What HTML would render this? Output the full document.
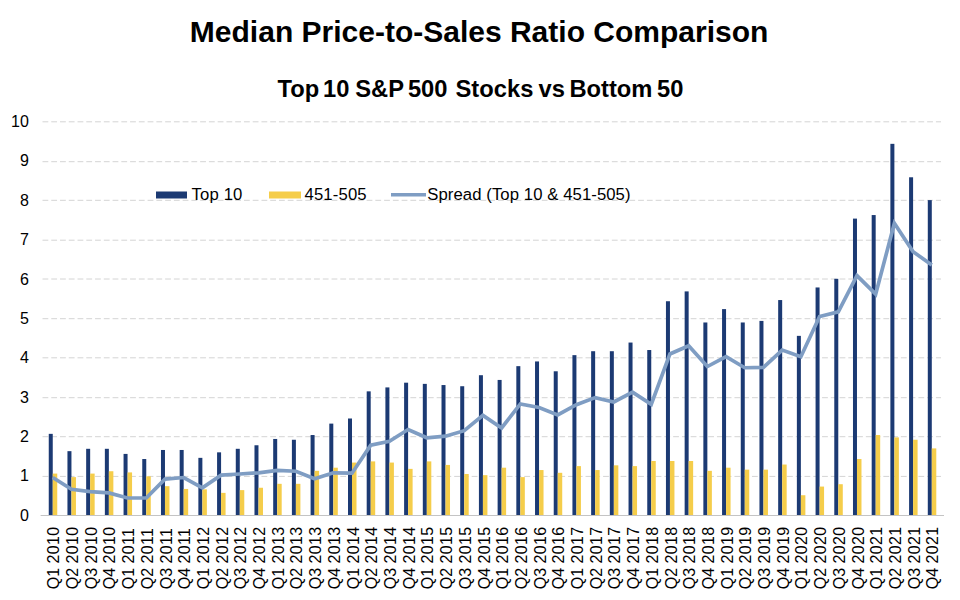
<!DOCTYPE html>
<html><head><meta charset="utf-8"><style>
html,body{margin:0;padding:0;background:#fff;}
body{width:960px;height:600px;overflow:hidden;}
svg{display:block;}
text{font-family:"Liberation Sans",sans-serif;fill:#000;}
</style></head><body>
<svg width="960" height="600" viewBox="0 0 960 600">
<rect width="960" height="600" fill="#fff"/>
<text x="479.1" y="42.2" text-anchor="middle" font-weight="bold" font-size="30">Median Price-to-Sales Ratio Comparison</text>
<text transform="translate(277.47,96.6) scale(1.01,1)" font-weight="bold" font-size="23.5">Top</text>
<text transform="translate(323.07,96.6) scale(1.01,1)" font-weight="bold" font-size="23.5">10</text>
<text transform="translate(355.18,96.6) scale(1.01,1)" font-weight="bold" font-size="23.5">S&amp;P</text>
<text transform="translate(407.88,96.6) scale(1.01,1)" font-weight="bold" font-size="23.5">500</text>
<text transform="translate(455.53,96.6) scale(1.01,1)" font-weight="bold" font-size="23.5">Stocks</text>
<text transform="translate(538.54,96.6) scale(1.01,1)" font-weight="bold" font-size="23.5">vs</text>
<text transform="translate(569.38,96.6) scale(1.01,1)" font-weight="bold" font-size="23.5">Bottom</text>
<text transform="translate(656.94,96.6) scale(1.01,1)" font-weight="bold" font-size="23.5">50</text>
<line x1="42.5" y1="476.40" x2="941" y2="476.40" stroke="#d4d4d4" stroke-width="1" stroke-dasharray="5.8 2.959"/>
<line x1="42.5" y1="436.70" x2="941" y2="436.70" stroke="#d4d4d4" stroke-width="1" stroke-dasharray="5.8 2.959"/>
<line x1="42.5" y1="397.70" x2="941" y2="397.70" stroke="#d4d4d4" stroke-width="1" stroke-dasharray="5.8 2.959"/>
<line x1="42.5" y1="357.80" x2="941" y2="357.80" stroke="#d4d4d4" stroke-width="1" stroke-dasharray="5.8 2.959"/>
<line x1="42.5" y1="318.70" x2="941" y2="318.70" stroke="#d4d4d4" stroke-width="1" stroke-dasharray="5.8 2.959"/>
<line x1="42.5" y1="279.00" x2="941" y2="279.00" stroke="#d4d4d4" stroke-width="1" stroke-dasharray="5.8 2.959"/>
<line x1="42.5" y1="240.20" x2="941" y2="240.20" stroke="#d4d4d4" stroke-width="1" stroke-dasharray="5.8 2.959"/>
<line x1="42.5" y1="200.30" x2="941" y2="200.30" stroke="#d4d4d4" stroke-width="1" stroke-dasharray="5.8 2.959"/>
<line x1="42.5" y1="161.70" x2="941" y2="161.70" stroke="#d4d4d4" stroke-width="1" stroke-dasharray="5.8 2.959"/>
<line x1="42.5" y1="121.80" x2="941" y2="121.80" stroke="#d4d4d4" stroke-width="1" stroke-dasharray="5.8 2.959"/>
<text x="28.8" y="520.60" text-anchor="end" font-size="16">0</text>
<text x="28.8" y="481.25" text-anchor="end" font-size="16">1</text>
<text x="28.8" y="441.90" text-anchor="end" font-size="16">2</text>
<text x="28.8" y="402.55" text-anchor="end" font-size="16">3</text>
<text x="28.8" y="363.20" text-anchor="end" font-size="16">4</text>
<text x="28.8" y="323.85" text-anchor="end" font-size="16">5</text>
<text x="28.8" y="284.50" text-anchor="end" font-size="16">6</text>
<text x="28.8" y="245.15" text-anchor="end" font-size="16">7</text>
<text x="28.8" y="205.80" text-anchor="end" font-size="16">8</text>
<text x="28.8" y="166.45" text-anchor="end" font-size="16">9</text>
<text x="28.8" y="127.10" text-anchor="end" font-size="16">10</text>
<rect x="156" y="191.5" width="31" height="7" fill="#1c3a73"/>
<text x="191.5" y="199.7" font-size="16.7" letter-spacing="0.15">Top 10</text>
<rect x="269" y="191.5" width="32" height="7" fill="#f5cd4a"/>
<text x="304.5" y="199.7" font-size="16.7" letter-spacing="0.15">451-505</text>
<line x1="391" y1="194.8" x2="426" y2="194.8" stroke="#7f9dc3" stroke-width="3.5"/>
<text x="427.3" y="199.7" font-size="16.7" letter-spacing="0.08">Spread (Top 10 &amp; 451-505)</text>
<rect x="48.75" y="433.85" width="4.0" height="81.45" fill="#1c3a73"/>
<rect x="52.75" y="473.59" width="4.5" height="41.71" fill="#f5cd4a"/>
<rect x="67.45" y="451.16" width="4.0" height="64.14" fill="#1c3a73"/>
<rect x="71.45" y="477.13" width="4.5" height="38.17" fill="#f5cd4a"/>
<rect x="86.16" y="448.80" width="4.0" height="66.50" fill="#1c3a73"/>
<rect x="90.16" y="473.59" width="4.5" height="41.71" fill="#f5cd4a"/>
<rect x="104.86" y="448.80" width="4.0" height="66.50" fill="#1c3a73"/>
<rect x="108.86" y="471.23" width="4.5" height="44.07" fill="#f5cd4a"/>
<rect x="123.56" y="453.91" width="4.0" height="61.39" fill="#1c3a73"/>
<rect x="127.56" y="472.41" width="4.5" height="42.89" fill="#f5cd4a"/>
<rect x="142.26" y="459.03" width="4.0" height="56.27" fill="#1c3a73"/>
<rect x="146.26" y="476.34" width="4.5" height="38.96" fill="#f5cd4a"/>
<rect x="160.97" y="449.98" width="4.0" height="65.32" fill="#1c3a73"/>
<rect x="164.97" y="486.18" width="4.5" height="29.12" fill="#f5cd4a"/>
<rect x="179.67" y="449.98" width="4.0" height="65.32" fill="#1c3a73"/>
<rect x="183.67" y="488.94" width="4.5" height="26.36" fill="#f5cd4a"/>
<rect x="198.37" y="457.85" width="4.0" height="57.45" fill="#1c3a73"/>
<rect x="202.37" y="489.33" width="4.5" height="25.97" fill="#f5cd4a"/>
<rect x="217.08" y="452.34" width="4.0" height="62.96" fill="#1c3a73"/>
<rect x="221.08" y="492.87" width="4.5" height="22.43" fill="#f5cd4a"/>
<rect x="235.78" y="448.80" width="4.0" height="66.50" fill="#1c3a73"/>
<rect x="239.78" y="490.12" width="4.5" height="25.18" fill="#f5cd4a"/>
<rect x="254.48" y="445.26" width="4.0" height="70.04" fill="#1c3a73"/>
<rect x="258.48" y="487.75" width="4.5" height="27.55" fill="#f5cd4a"/>
<rect x="273.19" y="438.96" width="4.0" height="76.34" fill="#1c3a73"/>
<rect x="277.19" y="483.82" width="4.5" height="31.48" fill="#f5cd4a"/>
<rect x="291.89" y="439.75" width="4.0" height="75.55" fill="#1c3a73"/>
<rect x="295.89" y="483.82" width="4.5" height="31.48" fill="#f5cd4a"/>
<rect x="310.59" y="435.03" width="4.0" height="80.27" fill="#1c3a73"/>
<rect x="314.59" y="470.83" width="4.5" height="44.47" fill="#f5cd4a"/>
<rect x="329.30" y="423.61" width="4.0" height="91.69" fill="#1c3a73"/>
<rect x="333.30" y="467.69" width="4.5" height="47.61" fill="#f5cd4a"/>
<rect x="348.00" y="418.50" width="4.0" height="96.80" fill="#1c3a73"/>
<rect x="352.00" y="462.57" width="4.5" height="52.73" fill="#f5cd4a"/>
<rect x="366.70" y="391.35" width="4.0" height="123.95" fill="#1c3a73"/>
<rect x="370.70" y="461.39" width="4.5" height="53.91" fill="#f5cd4a"/>
<rect x="385.40" y="387.41" width="4.0" height="127.89" fill="#1c3a73"/>
<rect x="389.40" y="462.57" width="4.5" height="52.73" fill="#f5cd4a"/>
<rect x="404.11" y="382.69" width="4.0" height="132.61" fill="#1c3a73"/>
<rect x="408.11" y="468.87" width="4.5" height="46.43" fill="#f5cd4a"/>
<rect x="422.81" y="383.87" width="4.0" height="131.43" fill="#1c3a73"/>
<rect x="426.81" y="461.39" width="4.5" height="53.91" fill="#f5cd4a"/>
<rect x="441.51" y="385.05" width="4.0" height="130.25" fill="#1c3a73"/>
<rect x="445.51" y="464.93" width="4.5" height="50.37" fill="#f5cd4a"/>
<rect x="460.22" y="386.23" width="4.0" height="129.07" fill="#1c3a73"/>
<rect x="464.22" y="473.98" width="4.5" height="41.32" fill="#f5cd4a"/>
<rect x="478.92" y="375.21" width="4.0" height="140.09" fill="#1c3a73"/>
<rect x="482.92" y="475.16" width="4.5" height="40.14" fill="#f5cd4a"/>
<rect x="497.62" y="379.94" width="4.0" height="135.36" fill="#1c3a73"/>
<rect x="501.62" y="467.69" width="4.5" height="47.61" fill="#f5cd4a"/>
<rect x="516.33" y="366.16" width="4.0" height="149.14" fill="#1c3a73"/>
<rect x="520.33" y="477.13" width="4.5" height="38.17" fill="#f5cd4a"/>
<rect x="535.03" y="361.44" width="4.0" height="153.86" fill="#1c3a73"/>
<rect x="539.03" y="470.05" width="4.5" height="45.25" fill="#f5cd4a"/>
<rect x="553.73" y="371.28" width="4.0" height="144.02" fill="#1c3a73"/>
<rect x="557.73" y="472.80" width="4.5" height="42.50" fill="#f5cd4a"/>
<rect x="572.43" y="355.15" width="4.0" height="160.15" fill="#1c3a73"/>
<rect x="576.43" y="466.11" width="4.5" height="49.19" fill="#f5cd4a"/>
<rect x="591.14" y="351.21" width="4.0" height="164.09" fill="#1c3a73"/>
<rect x="595.14" y="470.05" width="4.5" height="45.25" fill="#f5cd4a"/>
<rect x="609.84" y="351.21" width="4.0" height="164.09" fill="#1c3a73"/>
<rect x="613.84" y="465.33" width="4.5" height="49.97" fill="#f5cd4a"/>
<rect x="628.54" y="342.55" width="4.0" height="172.75" fill="#1c3a73"/>
<rect x="632.54" y="466.11" width="4.5" height="49.19" fill="#f5cd4a"/>
<rect x="647.25" y="350.03" width="4.0" height="165.27" fill="#1c3a73"/>
<rect x="651.25" y="461.00" width="4.5" height="54.30" fill="#f5cd4a"/>
<rect x="665.95" y="301.24" width="4.0" height="214.06" fill="#1c3a73"/>
<rect x="669.95" y="461.00" width="4.5" height="54.30" fill="#f5cd4a"/>
<rect x="684.65" y="291.40" width="4.0" height="223.90" fill="#1c3a73"/>
<rect x="688.65" y="461.00" width="4.5" height="54.30" fill="#f5cd4a"/>
<rect x="703.36" y="322.48" width="4.0" height="192.82" fill="#1c3a73"/>
<rect x="707.36" y="470.83" width="4.5" height="44.47" fill="#f5cd4a"/>
<rect x="722.06" y="309.11" width="4.0" height="206.19" fill="#1c3a73"/>
<rect x="726.06" y="467.69" width="4.5" height="47.61" fill="#f5cd4a"/>
<rect x="740.76" y="322.48" width="4.0" height="192.82" fill="#1c3a73"/>
<rect x="744.76" y="469.65" width="4.5" height="45.65" fill="#f5cd4a"/>
<rect x="759.46" y="320.91" width="4.0" height="194.39" fill="#1c3a73"/>
<rect x="763.46" y="469.65" width="4.5" height="45.65" fill="#f5cd4a"/>
<rect x="778.17" y="300.06" width="4.0" height="215.24" fill="#1c3a73"/>
<rect x="782.17" y="464.54" width="4.5" height="50.76" fill="#f5cd4a"/>
<rect x="796.87" y="335.86" width="4.0" height="179.44" fill="#1c3a73"/>
<rect x="800.87" y="495.23" width="4.5" height="20.07" fill="#f5cd4a"/>
<rect x="815.57" y="287.46" width="4.0" height="227.84" fill="#1c3a73"/>
<rect x="819.57" y="486.57" width="4.5" height="28.73" fill="#f5cd4a"/>
<rect x="834.28" y="278.81" width="4.0" height="236.49" fill="#1c3a73"/>
<rect x="838.28" y="484.21" width="4.5" height="31.09" fill="#f5cd4a"/>
<rect x="852.98" y="218.60" width="4.0" height="296.70" fill="#1c3a73"/>
<rect x="856.98" y="459.03" width="4.5" height="56.27" fill="#f5cd4a"/>
<rect x="871.68" y="215.06" width="4.0" height="300.24" fill="#1c3a73"/>
<rect x="875.68" y="435.03" width="4.5" height="80.27" fill="#f5cd4a"/>
<rect x="890.38" y="143.84" width="4.0" height="371.46" fill="#1c3a73"/>
<rect x="894.38" y="437.39" width="4.5" height="77.91" fill="#f5cd4a"/>
<rect x="909.09" y="177.28" width="4.0" height="338.02" fill="#1c3a73"/>
<rect x="913.09" y="439.75" width="4.5" height="75.55" fill="#f5cd4a"/>
<rect x="927.79" y="200.11" width="4.0" height="315.19" fill="#1c3a73"/>
<rect x="931.79" y="448.40" width="4.5" height="66.89" fill="#f5cd4a"/>
<line x1="40.6" y1="515.5" x2="944" y2="515.5" stroke="#c4c4c4" stroke-width="1"/>
<polyline points="52.75,477.52 71.45,489.33 90.16,491.69 108.86,492.87 127.56,497.99 146.26,497.99 164.97,479.10 183.67,477.52 202.37,487.75 221.08,475.16 239.78,473.98 258.48,472.80 277.19,470.44 295.89,471.23 314.59,478.70 333.30,472.80 352.00,473.20 370.70,445.26 389.40,441.32 408.11,429.52 426.81,437.78 445.51,436.21 464.22,430.70 482.92,415.35 501.62,427.94 520.33,403.94 539.03,407.48 557.73,414.96 576.43,404.73 595.14,397.64 613.84,401.97 632.54,392.13 651.25,404.33 669.95,353.96 688.65,345.70 707.36,366.56 726.06,356.72 744.76,367.74 763.46,367.34 782.17,350.03 800.87,356.72 819.57,316.58 838.28,311.86 856.98,275.66 875.68,294.15 894.38,223.32 913.09,251.65 931.79,265.03" fill="none" stroke="#7f9dc3" stroke-width="3.7" stroke-linejoin="miter" stroke-miterlimit="10" stroke-linecap="butt"/>
<text transform="translate(59.35,589.2) rotate(-90)" font-size="16">Q1 <tspan letter-spacing="0.3">2010</tspan></text>
<text transform="translate(78.05,589.2) rotate(-90)" font-size="16">Q2 <tspan letter-spacing="0.3">2010</tspan></text>
<text transform="translate(96.76,589.2) rotate(-90)" font-size="16">Q3 <tspan letter-spacing="0.3">2010</tspan></text>
<text transform="translate(115.46,589.2) rotate(-90)" font-size="16">Q4 <tspan letter-spacing="0.3">2010</tspan></text>
<text transform="translate(134.16,589.2) rotate(-90)" font-size="16">Q1 <tspan letter-spacing="0.3">2011</tspan></text>
<text transform="translate(152.86,589.2) rotate(-90)" font-size="16">Q2 <tspan letter-spacing="0.3">2011</tspan></text>
<text transform="translate(171.57,589.2) rotate(-90)" font-size="16">Q3 <tspan letter-spacing="0.3">2011</tspan></text>
<text transform="translate(190.27,589.2) rotate(-90)" font-size="16">Q4 <tspan letter-spacing="0.3">2011</tspan></text>
<text transform="translate(208.97,589.2) rotate(-90)" font-size="16">Q1 <tspan letter-spacing="0.3">2012</tspan></text>
<text transform="translate(227.68,589.2) rotate(-90)" font-size="16">Q2 <tspan letter-spacing="0.3">2012</tspan></text>
<text transform="translate(246.38,589.2) rotate(-90)" font-size="16">Q3 <tspan letter-spacing="0.3">2012</tspan></text>
<text transform="translate(265.08,589.2) rotate(-90)" font-size="16">Q4 <tspan letter-spacing="0.3">2012</tspan></text>
<text transform="translate(283.79,589.2) rotate(-90)" font-size="16">Q1 <tspan letter-spacing="0.3">2013</tspan></text>
<text transform="translate(302.49,589.2) rotate(-90)" font-size="16">Q2 <tspan letter-spacing="0.3">2013</tspan></text>
<text transform="translate(321.19,589.2) rotate(-90)" font-size="16">Q3 <tspan letter-spacing="0.3">2013</tspan></text>
<text transform="translate(339.90,589.2) rotate(-90)" font-size="16">Q4 <tspan letter-spacing="0.3">2013</tspan></text>
<text transform="translate(358.60,589.2) rotate(-90)" font-size="16">Q1 <tspan letter-spacing="0.3">2014</tspan></text>
<text transform="translate(377.30,589.2) rotate(-90)" font-size="16">Q2 <tspan letter-spacing="0.3">2014</tspan></text>
<text transform="translate(396.00,589.2) rotate(-90)" font-size="16">Q3 <tspan letter-spacing="0.3">2014</tspan></text>
<text transform="translate(414.71,589.2) rotate(-90)" font-size="16">Q4 <tspan letter-spacing="0.3">2014</tspan></text>
<text transform="translate(433.41,589.2) rotate(-90)" font-size="16">Q1 <tspan letter-spacing="0.3">2015</tspan></text>
<text transform="translate(452.11,589.2) rotate(-90)" font-size="16">Q2 <tspan letter-spacing="0.3">2015</tspan></text>
<text transform="translate(470.82,589.2) rotate(-90)" font-size="16">Q3 <tspan letter-spacing="0.3">2015</tspan></text>
<text transform="translate(489.52,589.2) rotate(-90)" font-size="16">Q4 <tspan letter-spacing="0.3">2015</tspan></text>
<text transform="translate(508.22,589.2) rotate(-90)" font-size="16">Q1 <tspan letter-spacing="0.3">2016</tspan></text>
<text transform="translate(526.93,589.2) rotate(-90)" font-size="16">Q2 <tspan letter-spacing="0.3">2016</tspan></text>
<text transform="translate(545.63,589.2) rotate(-90)" font-size="16">Q3 <tspan letter-spacing="0.3">2016</tspan></text>
<text transform="translate(564.33,589.2) rotate(-90)" font-size="16">Q4 <tspan letter-spacing="0.3">2016</tspan></text>
<text transform="translate(583.03,589.2) rotate(-90)" font-size="16">Q1 <tspan letter-spacing="0.3">2017</tspan></text>
<text transform="translate(601.74,589.2) rotate(-90)" font-size="16">Q2 <tspan letter-spacing="0.3">2017</tspan></text>
<text transform="translate(620.44,589.2) rotate(-90)" font-size="16">Q3 <tspan letter-spacing="0.3">2017</tspan></text>
<text transform="translate(639.14,589.2) rotate(-90)" font-size="16">Q4 <tspan letter-spacing="0.3">2017</tspan></text>
<text transform="translate(657.85,589.2) rotate(-90)" font-size="16">Q1 <tspan letter-spacing="0.3">2018</tspan></text>
<text transform="translate(676.55,589.2) rotate(-90)" font-size="16">Q2 <tspan letter-spacing="0.3">2018</tspan></text>
<text transform="translate(695.25,589.2) rotate(-90)" font-size="16">Q3 <tspan letter-spacing="0.3">2018</tspan></text>
<text transform="translate(713.96,589.2) rotate(-90)" font-size="16">Q4 <tspan letter-spacing="0.3">2018</tspan></text>
<text transform="translate(732.66,589.2) rotate(-90)" font-size="16">Q1 <tspan letter-spacing="0.3">2019</tspan></text>
<text transform="translate(751.36,589.2) rotate(-90)" font-size="16">Q2 <tspan letter-spacing="0.3">2019</tspan></text>
<text transform="translate(770.06,589.2) rotate(-90)" font-size="16">Q3 <tspan letter-spacing="0.3">2019</tspan></text>
<text transform="translate(788.77,589.2) rotate(-90)" font-size="16">Q4 <tspan letter-spacing="0.3">2019</tspan></text>
<text transform="translate(807.47,589.2) rotate(-90)" font-size="16">Q1 <tspan letter-spacing="0.3">2020</tspan></text>
<text transform="translate(826.17,589.2) rotate(-90)" font-size="16">Q2 <tspan letter-spacing="0.3">2020</tspan></text>
<text transform="translate(844.88,589.2) rotate(-90)" font-size="16">Q3 <tspan letter-spacing="0.3">2020</tspan></text>
<text transform="translate(863.58,589.2) rotate(-90)" font-size="16">Q4 <tspan letter-spacing="0.3">2020</tspan></text>
<text transform="translate(882.28,589.2) rotate(-90)" font-size="16">Q1 <tspan letter-spacing="0.3">2021</tspan></text>
<text transform="translate(900.99,589.2) rotate(-90)" font-size="16">Q2 <tspan letter-spacing="0.3">2021</tspan></text>
<text transform="translate(919.69,589.2) rotate(-90)" font-size="16">Q3 <tspan letter-spacing="0.3">2021</tspan></text>
<text transform="translate(938.39,589.2) rotate(-90)" font-size="16">Q4 <tspan letter-spacing="0.3">2021</tspan></text>
</svg>
</body></html>
